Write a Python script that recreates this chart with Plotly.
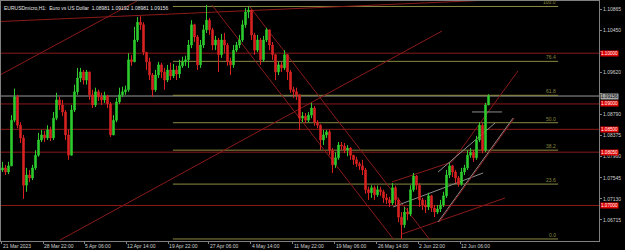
import plotly.graph_objects as go

# ---------------- data ----------------
symbol_title = "EURUSDmicro,H1:  Euro vs US Dollar  1.08981 1.09192 1.08981 1.09156"

first_open = 1.0770
closes = [1.0774, 1.0766, 1.0778, 1.0868, 1.0914, 1.0858, 1.0833, 1.0740, 1.0760, 1.0754,
          1.0774, 1.0799, 1.0829, 1.0839, 1.0833, 1.0849, 1.0833, 1.0872, 1.0908, 1.0898,
          1.0884, 1.0839, 1.0799, 1.0888, 1.0924, 1.0951, 1.0963, 1.0947, 1.0963, 1.0918,
          1.0898, 1.0924, 1.0914, 1.0908, 1.0916, 1.0900, 1.0839, 1.0868, 1.0904, 1.0918,
          1.0924, 1.0928, 1.0987, 1.0983, 1.1026, 1.1061, 1.1056, 1.1002, 1.0983, 1.0957,
          1.0928, 1.0957, 1.0977, 1.0963, 1.0947, 1.0967, 1.0955, 1.0967, 1.0959, 1.0975,
          1.0983, 1.0987, 1.1016, 1.1056, 1.1032, 1.0977, 1.1016, 1.1046, 1.1065, 1.1046,
          1.1016, 1.1026, 1.0997, 1.1026, 1.1016, 1.0983, 1.0977, 1.1006, 1.1016, 1.1026,
          1.1056, 1.1081, 1.1085, 1.1036, 1.1006, 1.1026, 1.0987, 1.1026, 1.1046, 1.1016,
          1.0997, 1.0963, 1.0977, 1.0971, 1.0997, 1.0963, 1.0928, 1.0924, 1.0918, 1.0872,
          1.0876, 1.0868, 1.0878, 1.0892, 1.0864, 1.0858, 1.0829, 1.0839, 1.0845, 1.0809,
          1.0780, 1.0794, 1.0819, 1.0817, 1.0809, 1.0813, 1.0799, 1.0790, 1.0782, 1.0778,
          1.0770, 1.0731, 1.0725, 1.0735, 1.0721, 1.0731, 1.0727, 1.0715, 1.0711, 1.0705,
          1.0735, 1.0711, 1.0677, 1.0662, 1.0687, 1.0683, 1.0731, 1.0758, 1.0740, 1.0711,
          1.0701, 1.0697, 1.0719, 1.0695, 1.0687, 1.0693, 1.0701, 1.0719, 1.0760, 1.0778,
          1.0766, 1.0754, 1.0742, 1.0766, 1.0774, 1.0799, 1.0805, 1.0794, 1.0829, 1.0858,
          1.0809, 1.08981, 1.09156]
highs = [1.0786, 1.0780, 1.0786, 1.0878, 1.0930, 1.0918, 1.0864, 1.0839, 1.0774, 1.0770,
         1.0780, 1.0809, 1.0843, 1.0849, 1.0847, 1.0858, 1.0855, 1.0884, 1.0922, 1.0914,
         1.0908, 1.0888, 1.0849, 1.0898, 1.0938, 1.0971, 1.0971, 1.0967, 1.0967, 1.0963,
         1.0928, 1.0932, 1.0928, 1.0922, 1.0924, 1.0918, 1.0904, 1.0878, 1.0912, 1.0932,
         1.0934, 1.0936, 1.1000, 1.0996, 1.1052, 1.1071, 1.1073, 1.1061, 1.1002, 1.0991,
         1.0961, 1.0967, 1.0983, 1.0981, 1.0971, 1.0977, 1.0981, 1.0979, 1.0975, 1.0987,
         1.0993, 1.0995, 1.1026, 1.1065, 1.1058, 1.1036, 1.1026, 1.1056, 1.1095, 1.1069,
         1.1050, 1.1034, 1.1030, 1.1038, 1.1040, 1.1020, 1.0991, 1.1016, 1.1022, 1.1036,
         1.1065, 1.1089, 1.1091, 1.1085, 1.1040, 1.1036, 1.1030, 1.1034, 1.1050, 1.1046,
         1.1022, 1.0997, 1.0983, 1.0983, 1.1006, 1.0997, 1.0967, 1.0934, 1.0932, 1.0918,
         1.0884, 1.0882, 1.0884, 1.0902, 1.0896, 1.0868, 1.0860, 1.0849, 1.0849, 1.0849,
         1.0813, 1.0805, 1.0825, 1.0825, 1.0823, 1.0819, 1.0815, 1.0799, 1.0796, 1.0786,
         1.0790, 1.0774, 1.0737, 1.0740, 1.0739, 1.0739, 1.0737, 1.0731, 1.0723, 1.0717,
         1.0744, 1.0739, 1.0715, 1.0687, 1.0697, 1.0695, 1.0740, 1.0764, 1.0760, 1.0744,
         1.0715, 1.0711, 1.0725, 1.0721, 1.0701, 1.0701, 1.0711, 1.0727, 1.0770, 1.0784,
         1.0780, 1.0770, 1.0758, 1.0774, 1.0780, 1.0809, 1.0813, 1.0809, 1.0837, 1.0864,
         1.0862, 1.0902, 1.09192]
lows = [1.0766, 1.0760, 1.0762, 1.0778, 1.0864, 1.0852, 1.0823, 1.0713, 1.0727, 1.0746,
        1.0750, 1.0770, 1.0796, 1.0825, 1.0825, 1.0829, 1.0827, 1.0829, 1.0868, 1.0888,
        1.0876, 1.0829, 1.0790, 1.0799, 1.0884, 1.0918, 1.0943, 1.0938, 1.0938, 1.0908,
        1.0892, 1.0894, 1.0906, 1.0898, 1.0902, 1.0892, 1.0835, 1.0843, 1.0864, 1.0900,
        1.0914, 1.0918, 1.0924, 1.0975, 1.0983, 1.1022, 1.1046, 1.0996, 1.0967, 1.0947,
        1.0914, 1.0924, 1.0951, 1.0951, 1.0928, 1.0943, 1.0947, 1.0951, 1.0947, 1.0951,
        1.0971, 1.0975, 1.0971, 1.1010, 1.1022, 1.0967, 1.0971, 1.1010, 1.1040, 1.1036,
        1.1006, 1.1006, 1.0963, 1.0991, 1.1000, 1.0975, 1.0957, 1.0971, 1.1002, 1.1010,
        1.1022, 1.1050, 1.1069, 1.1026, 1.0997, 1.1002, 1.0977, 1.0983, 1.1022, 1.1006,
        1.0987, 1.0947, 1.0957, 1.0963, 1.0967, 1.0947, 1.0922, 1.0912, 1.0908, 1.0849,
        1.0864, 1.0862, 1.0864, 1.0872, 1.0857, 1.0852, 1.0809, 1.0819, 1.0833, 1.0799,
        1.0764, 1.0774, 1.0790, 1.0809, 1.0803, 1.0797, 1.0790, 1.0780, 1.0776, 1.0770,
        1.0760, 1.0723, 1.0711, 1.0715, 1.0711, 1.0717, 1.0719, 1.0705, 1.0703, 1.0697,
        1.0701, 1.0701, 1.0667, 1.0634, 1.0656, 1.0671, 1.0679, 1.0727, 1.0731, 1.0697,
        1.0691, 1.0685, 1.0691, 1.0687, 1.0677, 1.0683, 1.0687, 1.0697, 1.0715, 1.0754,
        1.0756, 1.0744, 1.0737, 1.0739, 1.0760, 1.0770, 1.0794, 1.0786, 1.0790, 1.0825,
        1.0803, 1.0805, 1.08981]
opens = [first_open] + closes[:-1]
bar_index = list(range(len(closes)))

# x-axis tick labels (every 128 H1 bars ~ 13.88 chart slots)
x_tick_labels = ["21 Mar 2023", "28 Mar 22:00", "5 Apr 06:00", "12 Apr 14:00", "19 Apr 22:00",
                 "27 Apr 06:00", "4 May 14:00", "11 May 22:00", "19 May 06:00", "26 May 14:00",
                 "2 Jun 22:00", "12 Jun 06:00"]
x_tick_slots = [-0.17, 13.5, 27.2, 41.2, 55.2, 68.8, 82.8, 96.8, 110.8, 124.8, 138.5, 152.5]

# y-axis tick values (labels hidden under price tags are left blank)
y_ticks = [1.06715, 1.07130, 1.07545, 1.07960, 1.08375, 1.08790, 1.09205, 1.09620, 1.10035,
           1.10450, 1.10865]
y_hidden = [1.09205, 1.10035]

# horizontal levels with red price tags
red_levels = [1.10000, 1.09000, 1.08500, 1.08050, 1.07000]
bid_price = 1.09156

# Fibonacci retracement (anchor prices, anchor bars, ratios)
fib_low, fib_high = 1.06340, 1.10920
fib_bar_start, fib_bar_end = 56.8, 185.2
fib_ratios = [0.0, 0.236, 0.382, 0.5, 0.618, 0.764, 1.0]
fib_labels = ["0.0", "23.6", "38.2", "50.0", "61.8", "76.4", "100.0"]

# hand-drawn trend lines: (bar0, price0, bar1, price1, colour)
RED = "#8b1a1a"
GRAY = "#8c8c8c"
trend_lines = [
    (-0.8, 1.10624, 159.2, 1.11038, RED),
    (-0.8, 1.09571, 44.8, 1.11028, RED),
    (19.2, 1.06320, 146.5, 1.10437, RED),
    (69.8, 1.10950, 130.5, 1.06320, RED),
    (82.5, 1.10910, 142.5, 1.06320, RED),
    (133.2, 1.06438, 167.5, 1.07147, RED),
    (129.8, 1.07463, 149.8, 1.07857, RED),
    (149.8, 1.07857, 171.8, 1.09649, RED),
    (130.2, 1.06970, 160.2, 1.07640, GRAY),
    (145.2, 1.07660, 164.2, 1.08625, GRAY),
    (145.2, 1.06675, 170.2, 1.08723, GRAY),
    (145.6, 1.06675, 170.6, 1.08723, RED),
    (156.5, 1.08842, 166.5, 1.08842, GRAY),
]

# ---------------- figure ----------------
FONT = "Liberation Sans"
fig = go.Figure()
fig.add_trace(go.Candlestick(
    x=bar_index, open=opens, high=highs, low=lows, close=closes,
    increasing=dict(line=dict(color="#2ecc2e", width=1), fillcolor="#2ecc2e"),
    decreasing=dict(line=dict(color="#d82222", width=1), fillcolor="#d82222"),
    whiskerwidth=0, showlegend=False, hoverinfo="skip",
))

shapes = []
shapes.append(dict(type="line", xref="paper", x0=0, x1=1, yref="y", y0=bid_price, y1=bid_price,
                   line=dict(color="#9a9a9a", width=1), layer="below"))
for lv in red_levels:
    shapes.append(dict(type="line", xref="paper", x0=0, x1=1, yref="y", y0=lv, y1=lv,
                       line=dict(color=RED, width=1), layer="below"))
FIB = "#8a8a42"
annotations = []
for r, lab in zip(fib_ratios, fib_labels):
    p = fib_low + r * (fib_high - fib_low)
    shapes.append(dict(type="line", xref="x", yref="y", x0=fib_bar_start, x1=fib_bar_end,
                       y0=p, y1=p, line=dict(color=FIB, width=1), layer="below"))
    annotations.append(dict(x=fib_bar_end, y=p, xref="x", yref="y", text=lab, showarrow=False,
                            xanchor="right", yanchor="bottom", yshift=-1,
                            font=dict(family=FONT, size=5, color=FIB)))
for (a0, p0, a1, p1, col) in trend_lines:
    shapes.append(dict(type="line", xref="x", yref="y", x0=a0, y0=p0, x1=a1, y1=p1,
                       line=dict(color=col, width=1), layer="below"))

for lv in red_levels:
    annotations.append(dict(x=1, xref="paper", y=lv, yref="y", text=f"{lv:.5f}", showarrow=False,
                            xanchor="left", xshift=1, bgcolor="#e00000", borderpad=0,
                            font=dict(family=FONT, size=4.6, color="#ffffff")))
annotations.append(dict(x=1, xref="paper", y=bid_price, yref="y", text=f"{bid_price:.5f}",
                        showarrow=False, xanchor="left", xshift=1, bgcolor="#a8a8a8", borderpad=0,
                        font=dict(family=FONT, size=4.6, color="#000000")))
annotations.append(dict(x=0, y=1, xref="paper", yref="paper", text=symbol_title, showarrow=False,
                        xanchor="left", yanchor="top", xshift=1, yshift=-2,
                        font=dict(family=FONT, size=5, color="#e6e6e6")))

fig.update_layout(
    width=625, height=250,
    paper_bgcolor="#000000", plot_bgcolor="#000000",
    margin=dict(l=1, r=26, t=1, b=9, autoexpand=False),
    shapes=shapes, annotations=annotations,
    font=dict(family=FONT, size=5, color="#d0d0d0"),
    xaxis=dict(range=[-0.5, 198.83], rangeslider=dict(visible=False), showgrid=False,
               zeroline=False, showline=True, mirror=True, linecolor="#808080", linewidth=1,
               tickmode="array", tickvals=x_tick_slots, ticktext=x_tick_labels,
               ticks="outside", ticklen=2, tickcolor="#808080",
               ticklabelposition="outside right",
               tickfont=dict(family=FONT, size=5, color="#d0d0d0")),
    yaxis=dict(range=[1.06300, 1.11028], side="right", showgrid=False, zeroline=False,
               showline=True, mirror=True, linecolor="#808080", linewidth=1,
               tickmode="array", tickvals=y_ticks,
               ticktext=["" if v in y_hidden else f"{v:.5f}" for v in y_ticks],
               ticks="outside", ticklen=2, tickcolor="#808080",
               tickfont=dict(family=FONT, size=5, color="#d0d0d0")),
)

fig.write_html("out.html")
